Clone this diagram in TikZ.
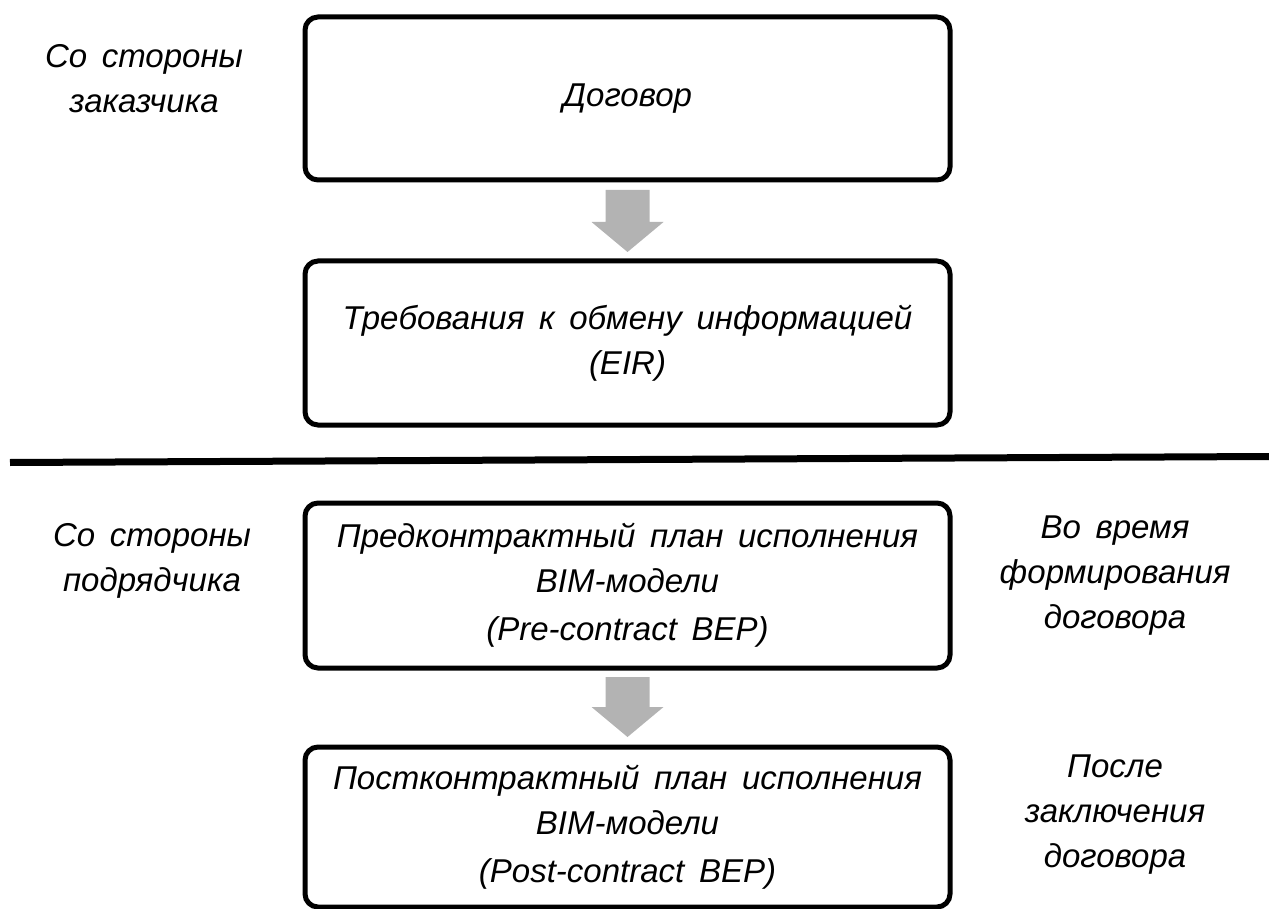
\documentclass[tikz,border=0pt]{standalone}
\usepackage{fontspec}
\setmainfont{Liberation Sans}[WordSpace=1.6]
\usetikzlibrary{calc}
\definecolor{arrowgray}{HTML}{B3B3B3}
\newcommand\diagfont{\fontsize{33}{45}\selectfont\itshape}
\begin{document}
\begin{tikzpicture}[x=1pt,y=-1pt,
  box/.style={draw=black, line width=5pt, rounded corners=13pt, minimum width=645pt,
    align=center, inner sep=0pt, outer sep=0pt, font=\diagfont},
  side/.style={align=center, inner sep=0pt, font=\diagfont},
  blockarrow/.style={fill=arrowgray, draw=none},
  sepline/.style={line width=7pt, black}]
\useasboundingbox (0,0) rectangle (1269,909);

% boxes
\node[box, minimum height=163pt] (b1) at (627.5,98.5) {Договор};
\node[box, minimum height=164pt] (b2) at (627.5,343) {Требования к обмену информацией\\(EIR)};
\node[box, minimum height=165pt] (b3) at (627.5,585.5) {Предконтрактный план исполнения\\BIM-модели\\[3pt](Pre-contract BEP)};
\node[box, minimum height=160pt] (b4) at (627.5,827) {Постконтрактный план исполнения\\BIM-модели\\[3pt](Post-contract BEP)};

% side labels
\node[side] (l1) at (144,79) {Со стороны\\заказчика};
\node[side] (l2) at (152,561) {Со стороны\\подрядчика};
\node[side] (r1) at (1115,576) {Во время\\формирования\\договора};
\node[side] (r2) at (1115,815) {После\\заключения\\договора};

% separator
\coordinate (sepL) at (10,462.5);
\coordinate (sepR) at (1269,456.5);
\draw[sepline] (sepL) -- (sepR);

% block arrows
\fill[blockarrow] ($(b1.south)+(-22,10)$) -- ($(b1.south)+(22,10)$) -- ($(b1.south)+(22,42)$)
  -- ($(b1.south)+(36,42)$) -- ($(b2.north)+(0,-9)$) -- ($(b1.south)+(-36,42)$)
  -- ($(b1.south)+(-22,42)$) -- cycle;
\fill[blockarrow] ($(b3.south)+(-22,9)$) -- ($(b3.south)+(22,9)$) -- ($(b3.south)+(22,39)$)
  -- ($(b3.south)+(36,39)$) -- ($(b4.north)+(0,-10)$) -- ($(b3.south)+(-36,39)$)
  -- ($(b3.south)+(-22,39)$) -- cycle;
\end{tikzpicture}
\end{document}
